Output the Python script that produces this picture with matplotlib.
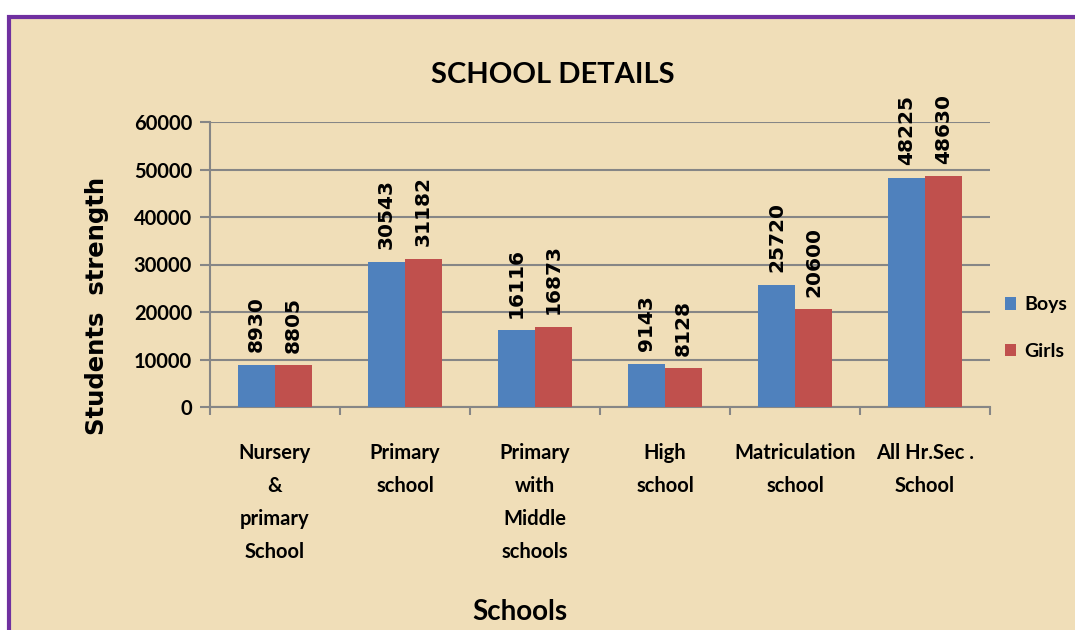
import matplotlib.pyplot as plt
import matplotlib.patches as patches
import numpy as np

# data
categories = ["Nursery\n&\nprimary\nSchool", "Primary\nschool", "Primary\nwith\nMiddle\nschools",
              "High\nschool", "Matriculation\nschool", "All Hr.Sec .\nSchool"]
boys = [8930, 30543, 16116, 9143, 25720, 48225]
girls = [8805, 31182, 16873, 8128, 20600, 48630]
yticks = [0, 10000, 20000, 30000, 40000, 50000, 60000]

calibri = ["Lato", "DejaVu Sans"]
verdana = ["DejaVu Sans"]
grid_c = "#868686"

fig = plt.figure(figsize=(10.75, 6.3), dpi=100)
fig.patch.set_facecolor("white")

# parchment panel with purple frame
panel = patches.Rectangle((9 / 1075, -0.05), 1.1, 1 - 17 / 630 + 0.05,
                          transform=fig.transFigure, facecolor="#F0DEB8",
                          edgecolor="#7030A0", linewidth=3, zorder=-10)
fig.patches.append(panel)

ax = fig.add_axes([210 / 1075, 1 - 407 / 630, 780 / 1075, 285 / 630])
ax.set_facecolor("none")

x = np.arange(len(categories))
w = 1 / 3.5
b1 = ax.bar(x - w / 2, boys, w, color="#4F81BD", label="Boys", zorder=3)
b2 = ax.bar(x + w / 2, girls, w, color="#C0504D", label="Girls", zorder=3)

for bars, vals in ((b1, boys), (b2, girls)):
    for rect, v in zip(bars, vals):
        ax.annotate(str(v), (rect.get_x() + rect.get_width() / 2, v),
                    xytext=(0, 9), textcoords="offset points",
                    rotation=90, ha="center", va="bottom",
                    fontsize=14.5, fontweight="bold", family=verdana)

ax.set_xlim(-0.5, len(categories) - 0.5)
ax.set_ylim(0, 60000)
ax.set_yticks(yticks)
ax.set_yticklabels([str(t) for t in yticks], fontsize=14.5, fontweight="bold", family=calibri)
ax.yaxis.grid(True, color=grid_c, linewidth=1.5, zorder=0)
ax.set_axisbelow(True)

ax.set_xticks(x)
ax.set_xticklabels(categories, fontsize=14.5, fontweight="bold", family=calibri,
                   linespacing=1.8, va="top")
ax.set_xticks(np.arange(len(categories) + 1) - 0.5, minor=True)
ax.tick_params(axis="x", which="major", length=0, pad=26)
ax.tick_params(axis="x", which="minor", length=6, color=grid_c, width=1.5)
ax.tick_params(axis="y", length=7, color=grid_c, width=1.5, pad=6)

for s in ("top", "right"):
    ax.spines[s].set_visible(False)
for s in ("left", "bottom"):
    ax.spines[s].set_color(grid_c)
    ax.spines[s].set_linewidth(1.5)

ax.set_ylabel("Students  strength", fontsize=17.5, fontweight="bold", family=verdana)
ax.yaxis.set_label_coords(-101 / 780, (407 - 306) / 285)

fig.text(553 / 1075, 1 - 75 / 630, "SCHOOL DETAILS", ha="center", va="center",
         fontsize=21, fontweight="bold", family=calibri)
fig.text(520 / 1075, 1 - 612 / 630, "Schools", ha="center", va="center",
         fontsize=20, fontweight="bold", family=calibri)

leg = fig.legend(handles=[b1, b2], loc="center left", bbox_to_anchor=(987 / 1075, 1 - 328 / 630),
                 frameon=False, prop={"family": calibri, "weight": "bold", "size": 14},
                 handlelength=0.6, handleheight=0.6, handletextpad=0.4, labelspacing=1.5)

fig.savefig("out.png", dpi=100)
